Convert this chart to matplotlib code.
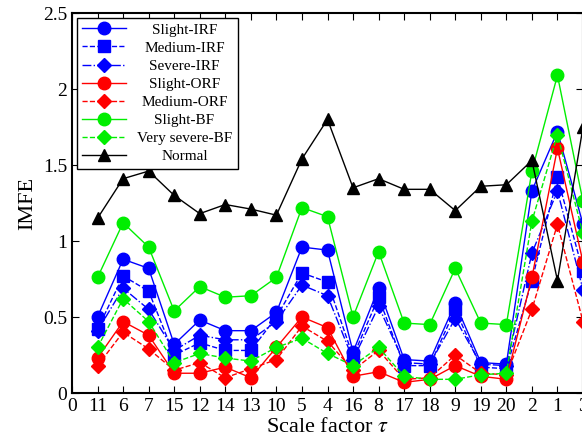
import matplotlib
matplotlib.use("Agg")
import matplotlib.pyplot as plt

plt.rcParams['font.family'] = ['Liberation Serif', 'DejaVu Serif']
plt.rcParams['mathtext.fontset'] = 'stix'

# ========= DATA =========
scale_labels = ['0', '11', '6', '7', '15', '12', '14', '13', '10', '5', '4',
                '16', '8', '17', '18', '9', '19', '20', '2', '1', '3']

slight_irf  = [0.50, 0.88, 0.82, 0.32, 0.48, 0.41, 0.41, 0.53, 0.96, 0.94,
               0.27, 0.69, 0.22, 0.21, 0.59, 0.20, 0.19, 1.33, 1.72, 1.11]
medium_irf  = [0.42, 0.77, 0.67, 0.25, 0.33, 0.28, 0.28, 0.50, 0.79, 0.73,
               0.24, 0.63, 0.18, 0.18, 0.55, 0.17, 0.16, 0.74, 1.42, 0.80]
severe_irf  = [0.41, 0.69, 0.55, 0.28, 0.38, 0.35, 0.35, 0.47, 0.71, 0.64,
               0.22, 0.57, 0.20, 0.19, 0.49, 0.19, 0.18, 0.92, 1.33, 0.68]
slight_orf  = [0.23, 0.47, 0.38, 0.13, 0.13, 0.17, 0.10, 0.30, 0.50, 0.43,
               0.11, 0.14, 0.07, 0.09, 0.18, 0.11, 0.09, 0.76, 1.61, 0.86]
medium_orf  = [0.18, 0.40, 0.29, 0.15, 0.20, 0.10, 0.16, 0.22, 0.44, 0.34,
               0.15, 0.28, 0.09, 0.10, 0.25, 0.13, 0.12, 0.55, 1.11, 0.47]
slight_bf   = [0.76, 1.12, 0.96, 0.54, 0.70, 0.63, 0.64, 0.76, 1.22, 1.16,
               0.50, 0.93, 0.46, 0.45, 0.82, 0.46, 0.45, 1.46, 2.09, 1.26]
vsevere_bf  = [0.30, 0.62, 0.47, 0.20, 0.26, 0.23, 0.21, 0.30, 0.36, 0.26,
               0.18, 0.30, 0.11, 0.09, 0.09, 0.12, 0.13, 1.13, 1.70, 1.05]
normal      = [1.15, 1.41, 1.46, 1.30, 1.18, 1.24, 1.21, 1.17, 1.54, 1.80,
               1.35, 1.41, 1.34, 1.34, 1.20, 1.36, 1.37, 1.53, 0.74, 1.75]
# ========================

GREEN = '#00ee00'

series = [
    ('Slight-IRF', slight_irf, 'blue', '-', 'o', 9),
    ('Medium-IRF', medium_irf, 'blue', '--', 's', 8),
    ('Severe-IRF', severe_irf, 'blue', '-.', 'D', 7),
    ('Slight-ORF', slight_orf, 'red', '-', 'o', 9),
    ('Medium-ORF', medium_orf, 'red', '--', 'D', 7),
    ('Slight-BF', slight_bf, GREEN, '-', 'o', 9),
    ('Very severe-BF', vsevere_bf, GREEN, '--', 'D', 7),
    ('Normal', normal, 'black', '-', '^', 9),
]

fig = plt.figure(figsize=(5.82, 4.46), dpi=100)
# axes runs slightly past the right edge, like the cropped original
ax = fig.add_axes([72/582, 53/446, 511/582, 380/446])

xs = list(range(1, len(slight_irf) + 1))
for name, vals, col, ls, mk, ms in series:
    ax.plot(xs, vals, color=col, linestyle=ls, marker=mk, markersize=ms,
            linewidth=1.0, label=name)

ax.set_xlim(0, 20)
ax.set_ylim(0, 2.5)
ax.set_xticks(range(len(scale_labels)))
ax.set_xticklabels(scale_labels)
ax.set_yticks([0, 0.5, 1, 1.5, 2, 2.5])
ax.set_yticklabels(['0', '0.5', '1', '1.5', '2', '2.5'])
ax.tick_params(direction='in', top=True, right=True, labelsize=14, length=5)
for sp in ax.spines.values():
    sp.set_linewidth(1.5)

ax.set_xlabel(r'Scale factor $\tau$', fontsize=16, labelpad=2)
ax.set_ylabel('IMFE', fontsize=16)

leg = ax.legend(loc='upper left', fontsize=11, frameon=True, fancybox=False,
                edgecolor='black', framealpha=1, handlelength=2.9,
                borderaxespad=0.3, labelspacing=0.29, borderpad=0.35,
                handletextpad=0.7)
leg.get_frame().set_linewidth(1.0)
leg.set_zorder(10)

# centre the legend labels in their column
renderer = fig.canvas.get_renderer()
widths = [t.get_window_extent(renderer).width for t in leg.get_texts()]
maxw = max(widths)
for t, w in zip(leg.get_texts(), widths):
    t.set_position(((maxw - w) / 2, 0))

fig.savefig('out.png', dpi=100)
